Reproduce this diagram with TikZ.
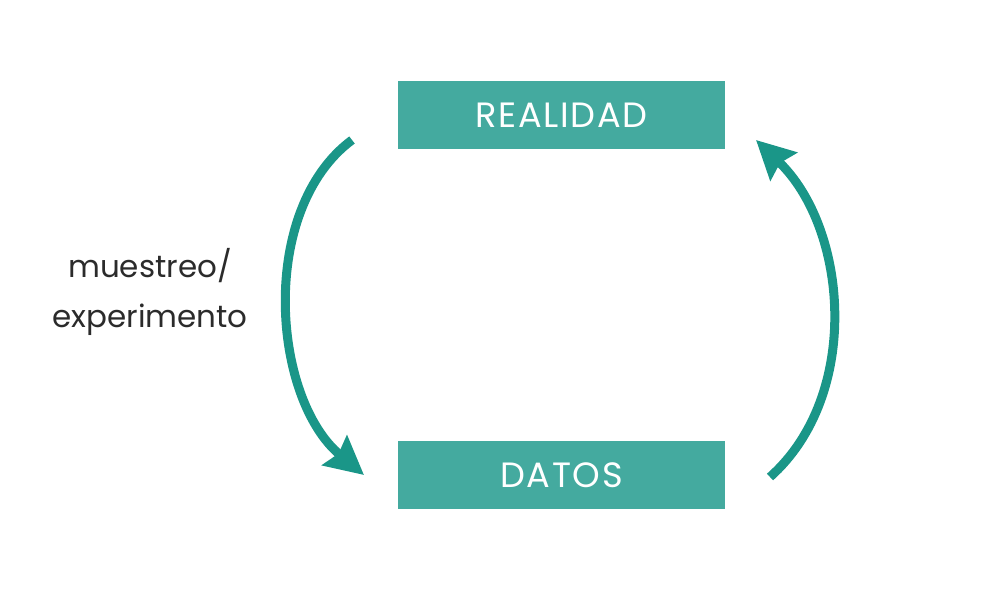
\documentclass[tikz,border=0pt]{standalone}
\usepackage{fontspec}
\setmainfont{Poppins}
\newfontfamily\capsfont[LetterSpace=5]{Poppins}
\usetikzlibrary{arrows.meta}
\definecolor{cajaverde}{HTML}{44AA9F}
\definecolor{flechaverde}{HTML}{1A9688}
\definecolor{textogris}{HTML}{2B2B2B}
\tikzset{
  caja/.style={fill=cajaverde,text=white,minimum width=8.175cm,minimum height=1.7cm,
    inner sep=0pt,font=\capsfont\fontsize{25}{30}\selectfont},
  ciclo/.style={line width=0.225cm,draw=flechaverde,
    -{Stealth[length=0.95cm,width=0.95cm,inset=0.12cm]}},
}
\begin{document}
\begin{tikzpicture}[x=0.025cm,y=-0.025cm,line cap=butt]
 \useasboundingbox (0,0) rectangle (1006,602);
 \node[caja] (realidad) at (561.5,115) {REALIDAD};
 \node[caja] (datos) at (561.5,475) {DATOS};
 % extremos de las flechas
 \coordinate (izqini) at (352,140);
 \coordinate (izqfin) at (364,475);
 \coordinate (derini) at (770,477);
 \coordinate (derfin) at (756,140);
 \draw[ciclo] (izqini) .. controls (258,210) and (272,398) .. (izqfin);
 \draw[ciclo] (derini) .. controls (862,395) and (848,228) .. (derfin);
 \node[text=textogris,align=center,font=\fontsize{22}{36}\selectfont] (muestreo) at (150,292)
   {muestreo/\\experimento};
\end{tikzpicture}
\end{document}
